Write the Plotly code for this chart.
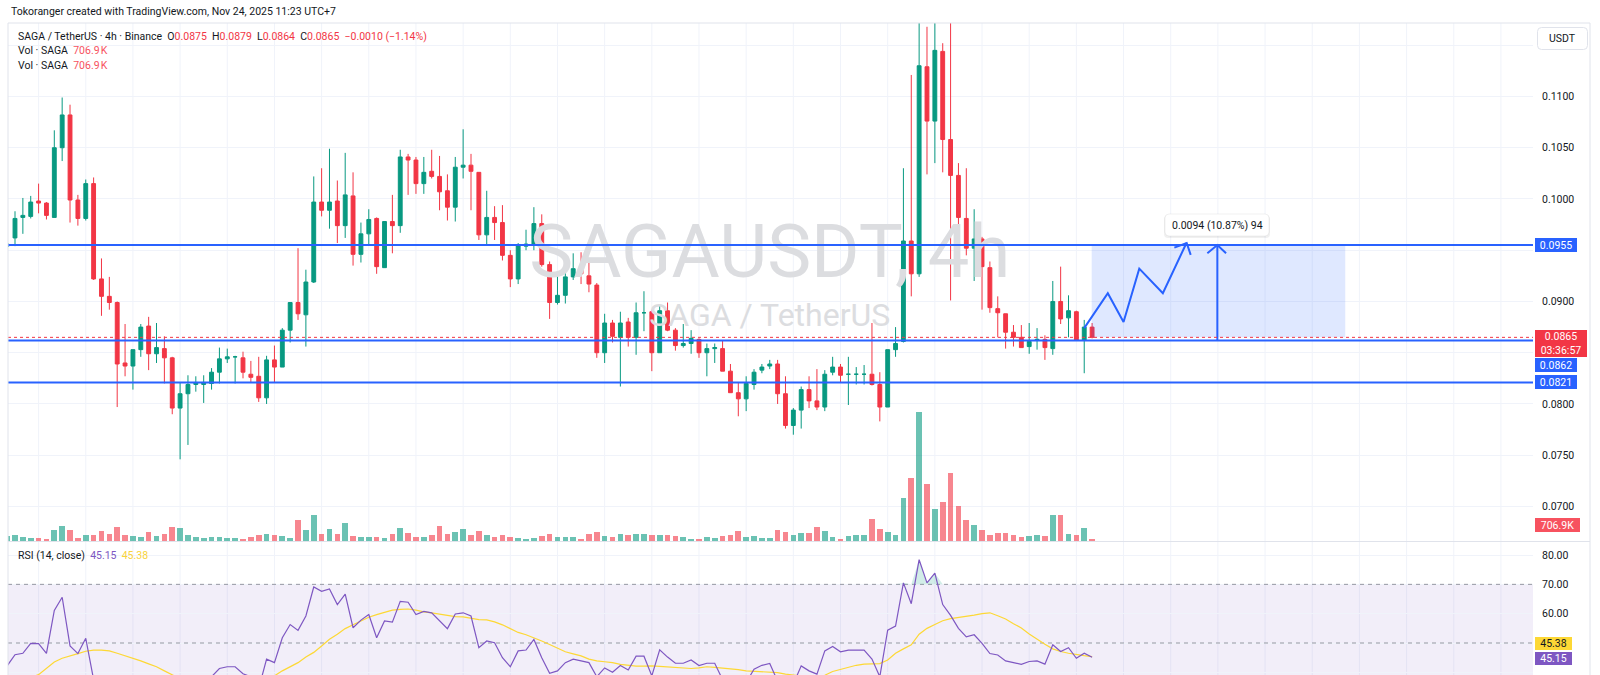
import plotly.graph_objects as go
import numpy as np

# ---------------- data ----------------
opens = [
.0954,.0962,.0982,.0983,.0998,.0996,.0982,.1050,.1082,.0999,
.0981,.1015,.0922,.0905,.0899,.0840,.0837,.0853,.0876,.0849,
.0854,.0845,.0796,.0810,.0819,.0819,.0820,.0831,.0844,.0846,
.0845,.0829,.0827,.0806,.0843,.0836,.0872,.0899,.0887,.0919,
.0997,.0989,.0998,.0974,.1003,.0946,.0966,.0981,.0933,.0978,
.0974,.1041,.1038,.1015,.1027,.1022,.1008,.0992,.1031,.1033,
.1026,.0965,.0982,.0977,.0945,.0922,.0954,.0955,.0976,.0936,
.0899,.0906,.0924,.0931,.0925,.0916,.0850,.0879,.0865,.0880,
.0865,.0889,.0890,.0850,.0891,.0872,.0857,.0859,.0863,.0850,
.0854,.0854,.0832,.0811,.0805,.0819,.0833,.0837,.0839,.0810,
.0779,.0794,.0814,.0803,.0797,.0831,.0836,.0829,.0829,.0829,
.0829,.0819,.0797,.0853,.0861,.0959,.0927,.1129,.1076,.1144,
.1058,.1023,.0981,.0952,.0961,.0933,.0893,.0888,.0870,.0865,
.0856,.0862,.0863,.0854,.0900,.0884,.0890,.0862,.0875]
highs = [
.0961,.0988,.1001,.1003,.1015,.0997,.1067,.1099,.1092,.1004,
.1019,.1021,.0942,.0924,.0900,.0878,.0853,.0878,.0885,.0879,
.0866,.0846,.0821,.0828,.0827,.0828,.0835,.0855,.0854,.0847,
.0851,.0842,.0846,.0847,.0857,.0874,.0899,.0952,.0931,.1022,
.1030,.1049,.1018,.1045,.1026,.0977,.0990,.0982,.0978,.1004,
.1048,.1044,.1041,.1041,.1048,.1042,.1024,.1041,.1068,.1044,
.1026,.1008,.0993,.0994,.0950,.0957,.0970,.0992,.0985,.0939,
.0928,.0938,.0947,.0948,.0942,.0918,.0888,.0882,.0890,.0884,
.0899,.0910,.0892,.0896,.0899,.0874,.0878,.0872,.0864,.0859,
.0859,.0862,.0839,.0821,.0827,.0834,.0839,.0843,.0843,.0827,
.0796,.0817,.0827,.0834,.0833,.0846,.0839,.0846,.0836,.0838,
.0879,.0831,.0853,.0875,.1030,.1121,.1180,.1168,.1180,.1152,
.1180,.1035,.1030,.0990,.0963,.0939,.0905,.0888,.0877,.0877,
.0879,.0874,.0867,.0920,.0934,.0906,.0891,.0882,.0879]
lows = [
.0950,.0954,.0966,.0981,.0986,.0980,.0982,.1037,.0977,.0974,
.0979,.0921,.0886,.0892,.0797,.0827,.0814,.0846,.0833,.0840,
.0820,.0790,.0746,.0760,.0812,.0801,.0814,.0820,.0840,.0820,
.0825,.0821,.0802,.0800,.0821,.0836,.0860,.0882,.0856,.0918,
.0983,.0971,.0957,.0962,.0935,.0938,.0955,.0927,.0933,.0947,
.0967,.1004,.1005,.1005,.1020,.0989,.0979,.0978,.1020,.0989,
.0960,.0956,.0960,.0940,.0914,.0917,.0950,.0950,.0934,.0883,
.0897,.0898,.0921,.0917,.0909,.0845,.0840,.0860,.0817,.0856,
.0848,.0871,.0832,.0850,.0871,.0852,.0855,.0849,.0845,.0827,
.0840,.0832,.0811,.0788,.0793,.0814,.0830,.0834,.0800,.0776,
.0770,.0776,.0796,.0794,.0793,.0828,.0821,.0799,.0819,.0819,
.0818,.0783,.0797,.0846,.0860,.0905,.0924,.1024,.1035,.1026,
.0901,.0971,.0945,.0920,.0892,.0889,.0865,.0854,.0856,.0855,
.0849,.0853,.0843,.0848,.0878,.0865,.0862,.0830,.0864]
closes = [
.0956,.0981,.0984,.0997,.0996,.0984,.1050,.1082,.0999,.0981,
.1015,.0922,.0905,.0899,.0839,.0837,.0853,.0875,.0849,.0855,
.0845,.0796,.0810,.0819,.0821,.0821,.0831,.0844,.0846,.0846,
.0831,.0826,.0806,.0843,.0836,.0872,.0899,.0888,.0919,.0997,
.0989,.0997,.0974,.1004,.0946,.0966,.0980,.0934,.0978,.0974,
.1041,.1038,.1015,.1026,.1022,.1007,.0992,.1031,.1033,.1027,
.0965,.0982,.0977,.0945,.0922,.0955,.0956,.0976,.0936,.0899,
.0906,.0924,.0932,.0927,.0917,.0850,.0879,.0866,.0879,.0865,
.0889,.0889,.0850,.0891,.0872,.0857,.0859,.0864,.0850,.0854,
.0855,.0832,.0811,.0805,.0820,.0831,.0836,.0839,.0810,.0779,
.0794,.0814,.0803,.0797,.0829,.0836,.0828,.0829,.0829,.0829,
.0819,.0797,.0853,.0859,.0959,.0927,.1130,.1076,.1145,.1058,
.1023,.0982,.0952,.0961,.0934,.0894,.0889,.0870,.0865,.0855,
.0861,.0863,.0855,.0900,.0883,.0891,.0862,.0875,.0865]
volumes_m = [
2.0,2.38,1.68,1.26,1.12,0.70,4.48,6.16,4.48,1.40,
2.66,2.66,4.06,2.80,5.74,2.38,2.10,1.68,3.78,1.96,
2.80,5.74,5.32,2.38,1.68,1.12,1.54,1.54,1.12,1.12,
0.70,1.68,2.66,3.08,2.66,2.10,1.12,8.96,4.48,10.78,
2.80,4.90,2.80,7.42,1.96,1.54,1.54,1.54,1.12,3.08,
5.32,3.36,1.68,1.68,2.38,6.44,2.80,3.64,4.90,2.66,
4.06,2.38,1.68,2.38,1.68,1.40,0.98,1.40,2.10,2.80,
1.68,1.68,1.68,0.98,2.80,3.78,1.96,1.68,3.08,2.52,
2.80,3.08,2.66,2.38,2.38,2.10,1.68,0.70,0.70,1.54,
1.40,2.24,2.52,4.20,1.68,2.10,1.12,1.12,4.48,3.78,
2.38,3.36,3.36,5.74,4.06,1.68,0.84,1.96,2.66,2.38,
9.38,4.90,3.78,2.66,18.2,26.6,53.9,23.8,13.3,16.5,
28.3,14.7,8.96,6.58,4.48,2.38,3.36,3.36,2.66,1.68,
2.10,2.38,1.96,10.78,10.78,2.94,2.66,5.32,0.7069]
rsi = [
42.2,46.0,46.5,49.9,49.8,46.5,61.1,65.6,49.0,46.4,
51.6,37.5,34.5,33.8,27.5,27.3,31.0,35.0,32.5,33.5,
32.0,26.5,29.5,32.0,32.5,33.0,38.5,41.3,41.9,41.9,
39.5,38.5,34.5,44.5,43.3,51.8,56.3,54.3,59.2,69.1,
67.6,68.4,63.1,66.7,55.2,57.8,59.7,51.8,57.5,57.1,
64.2,63.9,59.7,60.8,60.3,57.5,54.9,59.9,60.3,59.2,
48.4,50.7,50.1,45.0,41.9,47.3,47.6,51.2,45.0,39.7,
40.5,43.3,44.5,43.9,43.3,38.5,41.5,40.0,42.3,40.8,
45.5,45.5,38.8,47.7,45.2,43.1,43.1,44.2,42.3,43.1,
43.1,37.5,34.0,33.0,36.5,41.1,42.4,43.0,37.0,33.0,
36.0,42.2,40.5,39.4,47.3,48.8,47.0,47.6,47.6,47.6,
44.5,38.5,54.4,55.8,70.5,63.4,78.4,70.5,73.8,63.1,
59.4,55.0,52.1,52.8,49.9,46.4,45.9,43.9,43.3,42.7,
43.7,43.9,42.8,49.4,47.1,48.4,44.8,46.5,45.15]
rsi_ma = [
36.5,37.0,37.5,38.3,39.2,41.5,43.5,44.8,45.7,46.4,
47.2,47.6,47.6,47.3,46.5,45.7,44.8,43.9,42.9,41.9,
40.5,39.0,37.8,36.8,36.0,35.4,35.0,34.8,34.8,35.0,
35.3,35.8,36.6,37.6,38.8,40.5,41.8,43.3,45.2,46.8,
49.0,51.3,53.0,54.9,56.2,57.4,58.8,59.7,60.5,61.2,
61.5,61.6,61.2,60.6,60.3,59.8,59.3,59.0,58.9,58.5,
58.0,57.9,57.2,56.2,55.0,53.6,52.8,51.8,50.7,49.5,
48.3,47.0,46.3,45.6,44.5,43.9,43.6,43.3,42.7,42.4,
42.1,42.1,42.2,42.0,41.8,41.5,41.3,41.3,41.5,41.9,
41.7,41.5,41.2,40.9,40.5,40.4,40.3,40.2,39.9,39.4,
39.0,38.7,38.4,38.2,39.0,40.3,41.0,41.8,42.4,42.8,
43.0,43.0,44.2,46.5,48.0,49.4,53.0,55.0,56.3,57.6,
58.3,58.7,58.9,59.5,60.0,60.3,59.3,58.2,56.6,55.1,
53.1,51.2,49.6,48.0,47.1,46.5,46.0,45.7,45.38]

# price axis ticks
price_ticks = [0.070, 0.075, 0.080, 0.085, 0.090, 0.095, 0.100, 0.105, 0.110, 0.115]
price_tick_hidden = [0.085, 0.095, 0.115]
rsi_ticks = [40, 50, 60, 70, 80]
rsi_tick_hidden = [50]
rsi_band = [30, 70]
rsi_mid = 50

# drawings (bar index / price)
levels = [0.0955, 0.0862, 0.0821]
zig_bars = [138.0, 141.0, 143.0, 145.0, 148.0, 151.0]
zig_prices = [0.0874, 0.0908, 0.0880, 0.0932, 0.0908, 0.0957]
zig_head_bars = [149.46, 151.03, 151.54]
zig_head_prices = [0.09525, 0.0957, 0.09454]
range_box = dict(b0=138.95, b1=171.2, p0=0.0865, p1=0.0955)
measure_bar = 154.93
measure_head_bars = [153.66, 154.93, 156.04]
measure_head_prices = [0.0947, 0.0955, 0.0947]
measure_label = "0.0094 (10.87%) 94"
measure_label_price = 0.09741
countdown = "03:36:57"
watermark_bar = 98
watermark_prices = [0.09424, 0.08839]

# ---------------- layout helpers ----------------
n = len(closes)
bars = list(range(1, n + 1))
W, H = 1600, 675
ML, MR, MT, MB = 8, 67, 23, 0
PW, PH = W - ML - MR, H - MT - MB

def pxx(x):
    return (x - ML) / PW

def pxy(y):
    return (H - MB - y) / PH

UP, DOWN = '#089981', '#F23645'
BLUE = '#2962FF'
TXT = '#131722'
GRID = '#F0F3FA'
BORDER = '#E0E3EB'
FONT = 'Roboto, "Noto Sans", sans-serif'
FS = 10.5

x_range = [1.11, 195.08]
price_range = [0.06663, 0.11717]
rsi_range = [39.09, 84.44]
vol_range = [0, 217]

fig = go.Figure()

# watermark (behind candles)
fig.add_trace(go.Scatter(x=[watermark_bar], y=[watermark_prices[0]], mode='text',
                         text=['SAGAUSDT, 4h'], textfont=dict(size=74, color='#DCDDE0', family=FONT),
                         hoverinfo='skip', showlegend=False))
fig.add_trace(go.Scatter(x=[watermark_bar], y=[watermark_prices[1]], mode='text',
                         text=['SAGA / TetherUS'], textfont=dict(size=32, color='#DCDDE0', family=FONT),
                         hoverinfo='skip', showlegend=False))

# candles
fig.add_trace(go.Candlestick(
    x=bars, open=opens, high=highs, low=lows, close=closes,
    increasing=dict(line=dict(color=UP, width=1), fillcolor=UP),
    decreasing=dict(line=dict(color=DOWN, width=1), fillcolor=DOWN),
    whiskerwidth=0, showlegend=False, hoverinfo='skip'))

# volume
vcol = ['rgba(8,153,129,0.6)' if c >= o else 'rgba(242,54,69,0.6)' for o, c in zip(opens, closes)]
fig.add_trace(go.Bar(x=bars, y=volumes_m, marker=dict(color=vcol, line=dict(width=0)),
                     width=0.72, yaxis='y3', showlegend=False, hoverinfo='skip'))

# drawings
fig.add_trace(go.Scatter(x=zig_bars, y=zig_prices, mode='lines', line=dict(color=BLUE, width=2),
                         hoverinfo='skip', showlegend=False))
fig.add_trace(go.Scatter(x=zig_head_bars, y=zig_head_prices, mode='lines', line=dict(color=BLUE, width=2),
                         hoverinfo='skip', showlegend=False))
fig.add_trace(go.Scatter(x=[measure_bar, measure_bar], y=[levels[1], levels[0]], mode='lines',
                         line=dict(color=BLUE, width=2), hoverinfo='skip', showlegend=False))
fig.add_trace(go.Scatter(x=measure_head_bars, y=measure_head_prices, mode='lines',
                         line=dict(color=BLUE, width=2), hoverinfo='skip', showlegend=False))

# RSI pane
fig.add_trace(go.Scatter(x=bars, y=[rsi_band[1]] * n, mode='lines', line=dict(width=0),
                         yaxis='y2', hoverinfo='skip', showlegend=False))
fig.add_trace(go.Scatter(x=bars, y=list(np.maximum(rsi, rsi_band[1])), mode='lines', line=dict(width=0),
                         fill='tonexty', fillcolor='rgba(8,153,129,0.18)',
                         yaxis='y2', hoverinfo='skip', showlegend=False))
fig.add_trace(go.Scatter(x=bars, y=rsi_ma, mode='lines', line=dict(color='#FDD835', width=1.2),
                         yaxis='y2', hoverinfo='skip', showlegend=False))
fig.add_trace(go.Scatter(x=bars, y=rsi, mode='lines', line=dict(color='#7E57C2', width=1.2),
                         yaxis='y2', hoverinfo='skip', showlegend=False))

shapes = []
# vertical grid every 6 bars (one day)
for b in range(5, int(x_range[1]) + 1, 6):
    shapes.append(dict(type='line', xref='x', yref='paper', x0=b, x1=b, y0=0, y1=1,
                       line=dict(color=GRID, width=1), layer='below'))
# RSI band + dashed levels
shapes.append(dict(type='rect', xref='x', yref='y2', x0=x_range[0], x1=x_range[1],
                   y0=rsi_band[0], y1=rsi_band[1], fillcolor='rgba(126,87,194,0.10)',
                   line=dict(width=0), layer='below'))
for lv in [rsi_band[1], rsi_mid, rsi_band[0]]:
    shapes.append(dict(type='line', xref='x', yref='y2', x0=x_range[0], x1=x_range[1], y0=lv, y1=lv,
                       line=dict(color='#9598A1', width=1, dash='4px,4px'), layer='between'))
# range box
shapes.append(dict(type='rect', xref='x', yref='y', x0=range_box['b0'], x1=range_box['b1'],
                   y0=range_box['p0'], y1=range_box['p1'], fillcolor='rgba(41,98,255,0.15)',
                   line=dict(width=0), layer='above'))
# current price dotted line
shapes.append(dict(type='line', xref='x', yref='y', x0=x_range[0], x1=x_range[1],
                   y0=closes[-1], y1=closes[-1], line=dict(color=DOWN, width=1, dash='dot'), layer='above'))
# horizontal levels
for lv in levels:
    shapes.append(dict(type='line', xref='x', yref='y', x0=x_range[0], x1=x_range[1], y0=lv, y1=lv,
                       line=dict(color=BLUE, width=2), layer='above'))
# borders / separators
shapes.append(dict(type='line', xref='paper', yref='paper', x0=pxx(8), x1=pxx(1590), y0=pxy(23), y1=pxy(23),
                   line=dict(color=BORDER, width=1)))
shapes.append(dict(type='line', xref='paper', yref='paper', x0=pxx(8), x1=pxx(1590), y0=pxy(541.5), y1=pxy(541.5),
                   line=dict(color=BORDER, width=1)))
shapes.append(dict(type='line', xref='paper', yref='paper', x0=pxx(8), x1=pxx(8), y0=0, y1=pxy(23),
                   line=dict(color=BORDER, width=1)))
shapes.append(dict(type='line', xref='paper', yref='paper', x0=pxx(1590), x1=pxx(1590), y0=0, y1=pxy(23),
                   line=dict(color=BORDER, width=1)))


def rrect(x0, y0, x1, y1, r):
    X, Y = pxx, pxy
    return (f"M {X(x0+r)},{Y(y0)} L {X(x1-r)},{Y(y0)} Q {X(x1)},{Y(y0)} {X(x1)},{Y(y0+r)} "
            f"L {X(x1)},{Y(y1-r)} Q {X(x1)},{Y(y1)} {X(x1-r)},{Y(y1)} L {X(x0+r)},{Y(y1)} "
            f"Q {X(x0)},{Y(y1)} {X(x0)},{Y(y1-r)} L {X(x0)},{Y(y0+r)} Q {X(x0)},{Y(y0)} {X(x0+r)},{Y(y0)} Z")

# USDT button
shapes.append(dict(type='path', xref='paper', yref='paper', path=rrect(1537.5, 27.5, 1587.5, 49.5, 4),
                   fillcolor='white', line=dict(color=BORDER, width=1)))
# measurement label (shadow + box)
shapes.append(dict(type='path', xref='paper', yref='paper', path=rrect(1164, 215, 1270, 238, 4),
                   fillcolor='rgba(0,0,0,0.06)', line=dict(width=0)))
shapes.append(dict(type='path', xref='paper', yref='paper', path=rrect(1165, 214, 1269, 236, 4),
                   fillcolor='white', line=dict(color='rgba(0,0,0,0.06)', width=1)))

ann = []
ann.append(dict(text='Tokoranger created with TradingView.com, Nov 24, 2025 11:23 UTC+7',
                xref='paper', yref='paper', x=pxx(9), y=pxy(12), xanchor='left', yanchor='middle',
                showarrow=False, font=dict(size=FS, color=TXT, family=FONT)))


def red(s, col=DOWN):
    return f'<span style="color:{col}">{s}</span>'

chg = closes[-1] - closes[-2]
pct = chg / closes[-2] * 100
sp = '\u00a0\u00a0'
line1 = ('SAGA / TetherUS · 4h · Binance' + sp +
         'O' + red(f'{opens[-1]:.4f}') + sp + 'H' + red(f'{highs[-1]:.4f}') + sp +
         'L' + red(f'{lows[-1]:.4f}') + sp + 'C' + red(f'{closes[-1]:.4f}') + sp +
         red(f'{chg:.4f}'.replace('-', '\u2212') + ' (' + f'{pct:.2f}'.replace('-', '\u2212') + '%)'))
ann.append(dict(text=line1, xref='paper', yref='paper', x=pxx(16), y=pxy(36), xanchor='left',
                yanchor='middle', showarrow=False, font=dict(size=FS, color=TXT, family=FONT)))
vol_txt = f'{volumes_m[-1]*1000:.1f}\u202fK'
for yy in (51, 65.5):
    ann.append(dict(text='Vol · SAGA' + sp + red(vol_txt, '#F7525F'), xref='paper', yref='paper',
                    x=pxx(16), y=pxy(yy), xanchor='left', yanchor='middle', showarrow=False,
                    font=dict(size=FS, color=TXT, family=FONT)))
ann.append(dict(text='RSI (14, close)' + sp + red(f'{rsi[-1]:.2f}', '#7E57C2') + sp +
                red(f'{rsi_ma[-1]:.2f}', '#F9D33C'),
                xref='paper', yref='paper', x=pxx(16), y=pxy(555), xanchor='left', yanchor='middle',
                showarrow=False, font=dict(size=FS, color=TXT, family=FONT)))
ann.append(dict(text='USDT', xref='paper', yref='paper', x=pxx(1562.5), y=pxy(38.5), xanchor='center',
                yanchor='middle', showarrow=False, font=dict(size=FS, color=TXT, family=FONT)))
ann.append(dict(text=measure_label, xref='x', yref='y', x=measure_bar, y=measure_label_price,
                xanchor='center', yanchor='middle', showarrow=False,
                font=dict(size=FS, color=TXT, family=FONT)))


def tag(text, yc, bg, fg='white', w=40, h=12, yref='paper'):
    ann.append(dict(text=text, xref='paper', yref=yref, x=pxx(1535), y=yc, xanchor='left',
                    yanchor='middle', showarrow=False, bgcolor=bg, borderwidth=0, borderpad=1,
                    width=w, height=h, align='center',
                    font=dict(size=FS, color=fg, family=FONT)))

tag(f'{levels[0]:.4f}', levels[0], BLUE, yref='y')
tag(f'{closes[-1]:.4f}<br>{countdown}', pxy(343.3), DOWN, w=50, h=25)
tag(f'{levels[1]:.4f}', pxy(365), BLUE)
tag(f'{levels[2]:.4f}', levels[2], BLUE, yref='y')
tag(vol_txt.replace('\u202f', ''), pxy(525), '#F7525F', w=43)
tag(f'{rsi_ma[-1]:.2f}', pxy(643), '#FDD835', fg=TXT, w=35, h=11)
tag(f'{rsi[-1]:.2f}', pxy(658.3), '#7E57C2', w=35, h=11)

price_text = ['' if any(abs(t - hdn) < 1e-9 for hdn in price_tick_hidden) else f'{t:.4f}' for t in price_ticks]
rsi_text = ['' if t in rsi_tick_hidden else f'{t:.2f}' for t in rsi_ticks]

fig.update_layout(
    width=W, height=H, margin=dict(l=ML, r=MR, t=MT, b=MB),
    paper_bgcolor='white', plot_bgcolor='white', showlegend=False,
    font=dict(family=FONT, size=FS, color=TXT),
    xaxis=dict(range=x_range, showgrid=False, showticklabels=False, zeroline=False, showline=False,
               rangeslider=dict(visible=False), fixedrange=True),
    yaxis=dict(domain=[pxy(541), 1], range=price_range, side='right', tickvals=price_ticks,
               ticktext=price_text, gridcolor=GRID, gridwidth=1, zeroline=False, showline=False,
               ticks='', ticklabelstandoff=8, tickfont=dict(size=FS, color=TXT, family=FONT)),
    yaxis2=dict(domain=[0, pxy(542)], range=rsi_range, side='right', anchor='x', tickvals=rsi_ticks,
                ticktext=rsi_text, gridcolor=GRID, gridwidth=1, zeroline=False, showline=False,
                ticks='', ticklabelstandoff=8, tickfont=dict(size=FS, color=TXT, family=FONT)),
    yaxis3=dict(overlaying='y', range=vol_range, visible=False, anchor='x'),
    shapes=shapes, annotations=ann, bargap=0,
)

fig.write_html('out.html', config={'displayModeBar': False, 'staticPlot': True},
               post_script="document.body.style.margin='0';document.body.style.padding='0';"
                           "document.body.style.overflow='hidden';")
